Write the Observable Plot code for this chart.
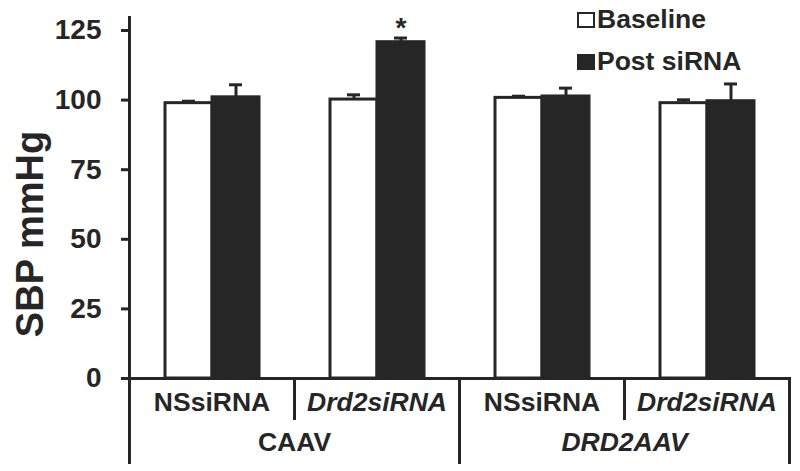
<!DOCTYPE html>
<html>
<head>
<meta charset="utf-8">
<script src="https://cdn.jsdelivr.net/npm/d3@7"></script>
<script src="https://cdn.jsdelivr.net/npm/@observablehq/plot@0.6"></script>
<style>
  html, body { margin: 0; padding: 0; background: #ffffff; }
  #wrap { position: relative; width: 800px; height: 471px; font-family: "Liberation Sans", Arial, sans-serif; color: #262626; overflow: hidden; }
  #wrap svg { position: absolute; left: 0; top: 0; }
  .ytitle { position: absolute; width: 300px; height: 38px; line-height: 38px; font-size: 38px; font-weight: bold; text-align: center; left: -120px; top: 214.5px; transform: rotate(-90deg); white-space: nowrap; }
  .sw { position: absolute; left: 577px; width: 18px; height: 16px; box-sizing: border-box; border: 2.5px solid #262626; }
  .lt { position: absolute; left: 597px; font-size: 26.5px; line-height: 26px; font-weight: bold; white-space: nowrap; }
</style>
</head>
<body>
<div id="wrap"></div>
<script>
// ---- data ----
const vectorGroups = ["CAAV", "CAAV", "DRD2AAV", "DRD2AAV"];
const sirnaGroups = ["NSsiRNA", "Drd2siRNA", "NSsiRNA", "Drd2siRNA"];
const seriesNames = ["Baseline", "Post siRNA"];
const baselineMean = [98.9, 100.2, 100.8, 98.9];
const baselineErr = [0.7, 1.7, 0.6, 1.2];
const postMean = [101.0, 120.8, 101.3, 99.6];
const postErr = [4.5, 1.5, 3.0, 6.2];
const significant = [false, true, false, false];
const yTicks = [0, 25, 50, 75, 100, 125];
const yTitle = "SBP mmHg";
const topGroups = ["CAAV", "DRD2AAV"];

// ---- derived tables ----
const keys = vectorGroups.map((v, i) => v + "|" + sirnaGroups[i]);
const rows = [];
keys.forEach((k, i) => {
  rows.push({key: k, series: seriesNames[0], value: baselineMean[i], err: baselineErr[i], sig: false});
  rows.push({key: k, series: seriesNames[1], value: postMean[i], err: postErr[i], sig: significant[i]});
});
const subLabels = keys.map((k, i) => ({key: k, label: sirnaGroups[i]}));
const topLabels = topGroups.map(g => ({key: keys[vectorGroups.indexOf(g)], label: g}));
const tickRows = yTicks.map(v => ({key: keys[0], v}));

const ink = "#262626";
const font = "'Liberation Sans', Arial, sans-serif";

const chart = Plot.plot({
  width: 800,
  height: 471,
  marginLeft: 128,
  marginRight: 10,
  marginTop: 30,
  marginBottom: 93,
  style: {fontFamily: font, color: ink, background: "transparent", overflow: "visible"},
  fx: {domain: keys, padding: 0, axis: null, label: null},
  x: {domain: seriesNames, paddingInner: 0, paddingOuter: 0.724, axis: null},
  y: {domain: [0, 125]},
  color: {domain: seriesNames, range: ["#ffffff", ink]},
  marks: [
    Plot.axisY({ticks: yTicks, tickSize: 8, tickFormat: () => "", strokeWidth: 3, label: null, stroke: ink}),
    Plot.text(tickRows, {fx: "key", y: "v", text: d => String(d.v), frameAnchor: "left", textAnchor: "end", dx: -28, fontSize: 28, fontWeight: "bold", fill: ink}),
    // error bars (upper only)
    Plot.ruleX(rows, {fx: "key", x: "series", y1: "value", y2: d => d.value + d.err, stroke: ink, strokeWidth: 3}),
    Plot.tickY(rows, {fx: "key", x: "series", y: d => d.value + d.err, stroke: ink, strokeWidth: 3, insetLeft: 17, insetRight: 17}),
    // bars
    Plot.barY(rows, {fx: "key", x: "series", y: "value", fill: "series", stroke: ink, strokeWidth: 3}),
    // significance
    Plot.text(rows.filter(d => d.sig), {fx: "key", x: "series", y: d => d.value + d.err, text: () => "*", fontSize: 28, fontWeight: "bold", fill: ink, dy: -10}),
    // axis lines and bracket lines
    Plot.ruleY([0], {stroke: ink, strokeWidth: 3}),
    Plot.frame({anchor: "left", fx: keys[0], insetTop: -13, insetBottom: -84, stroke: ink, strokeWidth: 3}),
    Plot.frame({anchor: "left", insetTop: 348, insetBottom: -40, stroke: ink, strokeWidth: 3}),
    Plot.frame({anchor: "left", fx: keys[2], insetTop: 348, insetBottom: -84, stroke: ink, strokeWidth: 3}),
    Plot.frame({anchor: "right", fx: keys[3], insetTop: 348, insetBottom: -84, stroke: ink, strokeWidth: 3}),
    // sub-group labels
    Plot.text(subLabels.filter(d => d.label === "NSsiRNA"), {fx: "key", text: "label", frameAnchor: "bottom", dy: 32, fontSize: 26.5, fontWeight: "bold", fill: ink}),
    Plot.text(subLabels.filter(d => d.label !== "NSsiRNA"), {fx: "key", text: "label", frameAnchor: "bottom", dy: 32, fontSize: 26.5, fontWeight: "bold", fontStyle: "italic", fill: ink}),
    // top-group labels
    Plot.text(topLabels.filter(d => d.label === "CAAV"), {fx: "key", text: "label", frameAnchor: "bottom-right", textAnchor: "middle", dy: 72.5, fontSize: 26.5, fontWeight: "bold", fill: ink}),
    Plot.text(topLabels.filter(d => d.label !== "CAAV"), {fx: "key", text: "label", frameAnchor: "bottom-right", textAnchor: "middle", dy: 72.5, fontSize: 26.5, fontWeight: "bold", fontStyle: "italic", fill: ink})
  ]
});

const wrap = document.getElementById("wrap");
wrap.appendChild(chart);

const t = document.createElement("div");
t.className = "ytitle";
t.textContent = yTitle;
wrap.appendChild(t);

// legend
const legendTops = [6, 48];
const swatchTops = [11.5, 53.5];
seriesNames.forEach((s, i) => {
  const sw = document.createElement("div");
  sw.className = "sw";
  sw.style.top = swatchTops[i] + "px";
  sw.style.background = i === 0 ? "#ffffff" : ink;
  wrap.appendChild(sw);
  const lt = document.createElement("div");
  lt.className = "lt";
  lt.style.top = legendTops[i] + "px";
  lt.textContent = s;
  wrap.appendChild(lt);
});
</script>
</body>
</html>
